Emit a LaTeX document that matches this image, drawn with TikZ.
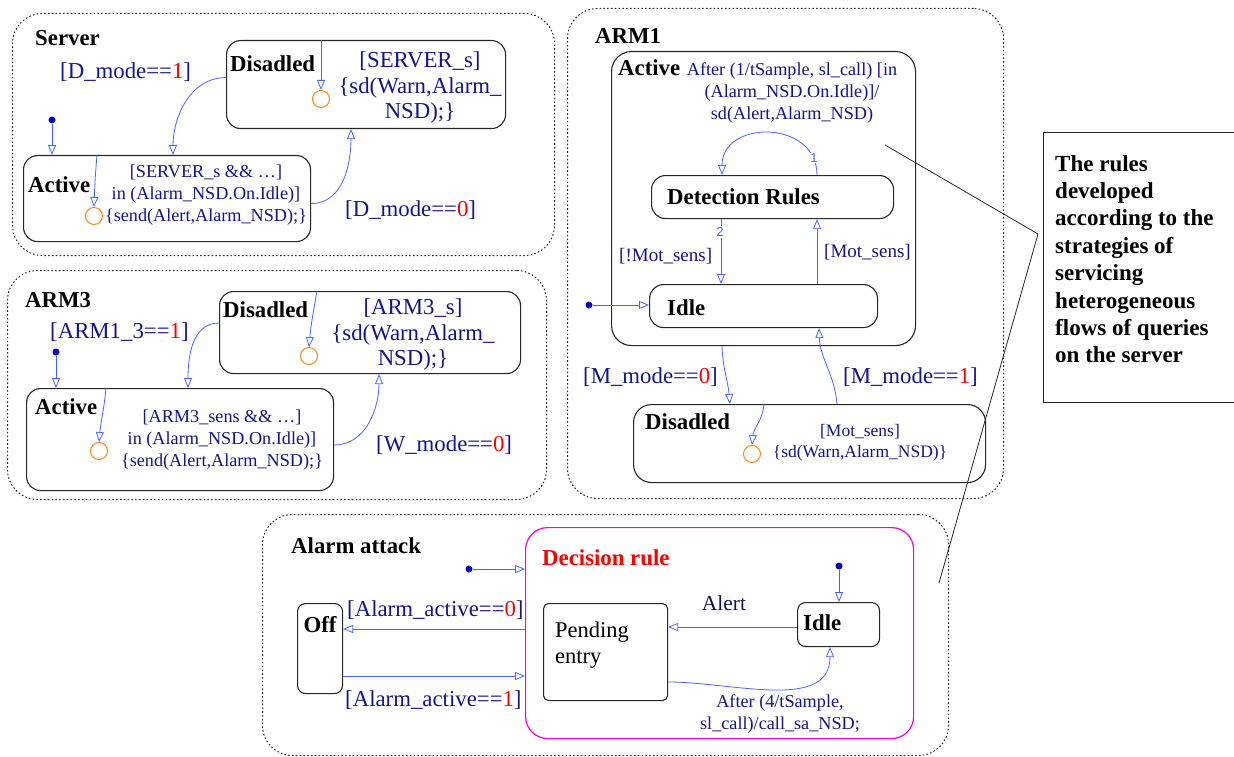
\documentclass[tikz,border=0pt]{standalone}
\usepackage{fontspec}
\setmainfont{Liberation Serif}
\newfontfamily\numfont{Liberation Sans}
\usetikzlibrary{arrows.meta,calc}
\definecolor{trblue}{RGB}{70,100,255}
\definecolor{lblue}{RGB}{20,20,140}
\definecolor{dotblue}{RGB}{0,0,200}
\definecolor{juncor}{RGB}{255,130,20}
\definecolor{magentab}{RGB}{255,0,210}
\begin{document}
\begin{tikzpicture}[x=1pt,y=-1pt,
  outer/.style={draw=black!85, line width=1pt, dash pattern=on 1.6pt off 2.2pt, rounded corners=30pt, rectangle, anchor=north west, inner sep=0},
  stbox/.style={draw=black!85, line width=1.1pt, rounded corners=14pt, rectangle, anchor=north west, inner sep=0},
  tr/.style={trblue, line width=0.8pt, -{Triangle[open,length=10pt,width=8pt]}},
  idot/.style={circle, fill=dotblue, inner sep=0, minimum size=7pt},
  junc/.style={circle, draw=juncor, line width=1pt, minimum size=17pt, inner sep=0},
  ttl/.style={font=\bfseries\fontsize{22.8}{25}\selectfont, inner sep=0, anchor=west},
  lbl/.style={font=\fontsize{22.8}{25.5}\selectfont, text=lblue, inner sep=0, align=center},
  mlbl/.style={font=\fontsize{19}{22}\selectfont, text=lblue, inner sep=0, align=center},
  slbl/.style={font=\fontsize{18.2}{22}\selectfont, text=lblue, inner sep=0, align=center},
  num/.style={font=\numfont\fontsize{13}{15}\selectfont, text=trblue, fill=white, inner sep=1pt}
]
\useasboundingbox (0,0) rectangle (1234,757);

% ================= Server =================
\node[outer, minimum width=542pt, minimum height=242pt] (server) at (12,13) {};
\node[ttl] (serverT) at (35,38) {Server};
\node[lbl, anchor=west] (sL1) at (60,72) {[D\_mode==\textcolor{red}{1}]};
\node[stbox, minimum width=279pt, minimum height=88pt] (sdis) at (226,40) {};
\node[ttl] (sdisT) at (230,64) {Disadled};
\node[junc] (sj) at (321,99) {};
\node[lbl] (sdisL) at (420,88) {[SERVER\_s]\\\{sd(Warn,Alarm\_\\NSD);\}};
\node[stbox, minimum width=287pt, minimum height=86pt] (sact) at (23,155) {};
\node[ttl] (sactT) at (28,185) {Active};
\node[junc] (sj2) at (94,216) {};
\node[slbl] (sactL) at (206,195) {[SERVER\_s \&\& …]\\in (Alarm\_NSD.On.Idle)]\\\{send(Alert,Alarm\_NSD);\}};
\node[idot] (sinit) at (52,120) {};
\node[lbl, anchor=west] (sL0) at (345,210) {[D\_mode==\textcolor{red}{0}]};
\draw[tr] (sinit) -- (sinit |- sact.north);
\draw[tr] (sdis.north -| sj) -- (sj.north);
\draw[tr] ([yshift=7pt]sdis.west) to[out=180,in=90] ($(sact.north west)+(150,0)$);
\draw[tr] ($(sact.north west)+(74,0)$) to[out=-95,in=88] (sj2.north);
\draw[tr] ([yshift=-5pt]sact.east) to[out=0,in=-90] ($(sdis.south west)+(125,0)$);

% ================= ARM3 =================
\node[outer, minimum width=539pt, minimum height=229pt] (arm3) at (7,270) {};
\node[ttl] (arm3T) at (25,300) {ARM3};
\node[lbl, anchor=west] (aL1) at (50,332) {[ARM1\_3==\textcolor{red}{1}]};
\node[stbox, minimum width=301pt, minimum height=82pt] (adis) at (219,291) {};
\node[ttl] (adisT) at (223,310) {Disadled};
\node[junc] (aj) at (309,356) {};
\node[lbl] (adisL) at (413,335) {[ARM3\_s]\\\{sd(Warn,Alarm\_\\NSD);\}};
\node[stbox, minimum width=307pt, minimum height=102pt] (aact) at (26,388) {};
\node[ttl] (aactT) at (35,407) {Active};
\node[junc] (aj2) at (99,451) {};
\node[slbl] (aactL) at (222,440) {[ARM3\_sens \&\& …]\\in (Alarm\_NSD.On.Idle)]\\\{send(Alert,Alarm\_NSD);\}};
\node[idot] (ainit) at (56,352) {};
\node[lbl, anchor=west] (aL0) at (376,445) {[W\_mode==\textcolor{red}{0}]};
\draw[tr] (ainit) -- (ainit |- aact.north);
\draw[tr] ($(adis.north west)+(98,0)$) to[out=-100,in=85] (aj.north);
\draw[tr] ($(adis.north west)+(0,32)$) to[out=180,in=90] ($(aact.north west)+(162,0)$);
\draw[tr] ($(aact.north west)+(80,0)$) to[out=-95,in=85] (aj2.north);
\draw[tr] ($(aact.north east)+(0,57)$) to[out=0,in=-90] ($(adis.south west)+(160,0)$);

% ================= ARM1 =================
\node[outer, minimum width=436pt, minimum height=490pt] (arm1) at (567,8) {};
\node[ttl] (arm1T) at (595,36) {ARM1};
\node[stbox, minimum width=304pt, minimum height=294pt, rounded corners=20pt] (mact) at (611,51) {};
\node[ttl] (mactT) at (618,68) {Active};
\node[slbl] (mactL) at (792,93) {After (1/tSample, sl\_call) [in\\(Alarm\_NSD.On.Idle)]/\\sd(Alert,Alarm\_NSD)};
\node[stbox, minimum width=242pt, minimum height=43pt] (det) at (651,175) {};
\node[ttl] (detT) at (667,197) {Detection Rules};
\node[stbox, minimum width=228pt, minimum height=43pt] (midle) at (649,284) {};
\node[ttl] (midleT) at (667,308) {Idle};
\node[idot] (minit) at (589,305) {};
\node[mlbl, anchor=west] (mL2) at (619,256) {[!Mot\_sens]};
\node[mlbl, anchor=west] (mL3) at (824,252) {[Mot\_sens]};
\draw[tr] ($(det.north west)+(166,0)$) to[out=90,in=90,looseness=1.5] ($(det.north west)+(71,0)$);
\node[num] (n1) at (814,158) {1};
\draw[tr] ($(det.south west)+(70,0)$) -- ($(midle.north west)+(72,0)$);
\node[num] (n2) at (720,232) {2};
\draw[tr] ($(midle.north west)+(168,0)$) -- ($(det.south west)+(166,0)$);
\draw[tr] (minit) -- (minit -| midle.west);
\node[stbox, minimum width=352pt, minimum height=78pt, rounded corners=18pt] (mdis) at (633,404) {};
\node[ttl] (mdisT) at (645,422) {Disadled};
\node[junc] (mj) at (752,454) {};
\node[slbl, font=\fontsize{17.5}{21}\selectfont] (mdisL) at (860,443) {[Mot\_sens]\\\{sd(Warn,Alarm\_NSD)\}};
\node[lbl, anchor=west] (mL0) at (583,377) {[M\_mode==\textcolor{red}{0}]};
\node[lbl, anchor=west] (mL1) at (843,377) {[M\_mode==\textcolor{red}{1}]};
\draw[tr] ($(mact.south west)+(111,0)$) to[out=-88,in=95] ($(mdis.north west)+(97,0)$);
\draw[tr] ($(mdis.north west)+(204,0)$) to[out=95,in=-88] ($(midle.south west)+(170,0)$);
\draw[tr] ($(mdis.north west)+(131,0)$) to[out=-95,in=85] (mj.north);

% ================= Note =================
\node[draw=black!85, line width=1.1pt, rectangle, anchor=north west, minimum width=210pt, minimum height=270pt, inner sep=0] (note) at (1043,132) {};
\node[font=\bfseries\fontsize{23}{27.4}\selectfont, align=left, anchor=north west, inner sep=0] (noteT) at (1055,155) {The rules\\developed\\according to the\\strategies of\\servicing\\heterogeneous\\flows of queries\\on the server};
\coordinate (lA) at (885,145);
\coordinate (lB) at (1038,234);
\coordinate (lC) at (939,583);
\draw[black!85, line width=0.8pt] (lA) -- (lB) -- (lC);

% ================= Alarm attack =================
\node[outer, minimum width=686pt, minimum height=241pt] (alarm) at (262,514) {};
\node[ttl] (alarmT) at (291,546) {Alarm attack};
\node[draw=magentab, line width=1.2pt, rectangle, rounded corners=22pt, anchor=north west, minimum width=388pt, minimum height=211pt, inner sep=0] (dec) at (525,527) {};
\node[ttl, text=red] (decT) at (542,558) {Decision rule};
\node[idot] (dinit) at (469,569) {};
\draw[tr] (dinit) -- (dinit -| dec.west);
\node[stbox, minimum width=45pt, minimum height=90pt, rounded corners=8pt] (off) at (297,603) {};
\node[ttl, anchor=center] (offT) at (320,625) {Off};
\node[lbl, anchor=west] (oL0) at (347,610) {[Alarm\_active==\textcolor{red}{0}]};
\node[lbl, anchor=west] (oL1) at (345,700) {[Alarm\_active==\textcolor{red}{1}]};
\draw[tr] ($(dec.north west)+(0,102)$) -- ($(off.north east)+(0,26)$);
\draw[tr] ($(off.north east)+(0,73)$) -- ($(dec.north west)+(0,149)$);
\node[stbox, minimum width=124pt, minimum height=97pt, rounded corners=5pt] (pend) at (543,603) {};
\node[font=\fontsize{22.5}{26}\selectfont, align=left, anchor=west, inner sep=0] (pendT) at (555,645) {Pending\\entry};
\node[stbox, minimum width=82pt, minimum height=44pt, rounded corners=8pt] (idle2) at (797,602) {};
\node[ttl] (idle2T) at (803,623) {Idle};
\node[idot] (iinit) at (839,566) {};
\draw[tr] (iinit) -- (iinit |- idle2.north);
\node[lbl, text=lblue!70!black, font=\fontsize{21.5}{24}\selectfont] (alertL) at (724,603) {Alert};
\draw[tr] ($(idle2.north west)+(0,25)$) -- ($(pend.north east)+(0,24)$);
\draw[tr] ($(pend.north east)+(0,79)$) to[out=0,in=-90] ($(idle2.south west)+(33,0)$);
\node[slbl] (afterL) at (780,714) {After (4/tSample,\\sl\_call)/call\_sa\_NSD;};
\end{tikzpicture}
\end{document}
